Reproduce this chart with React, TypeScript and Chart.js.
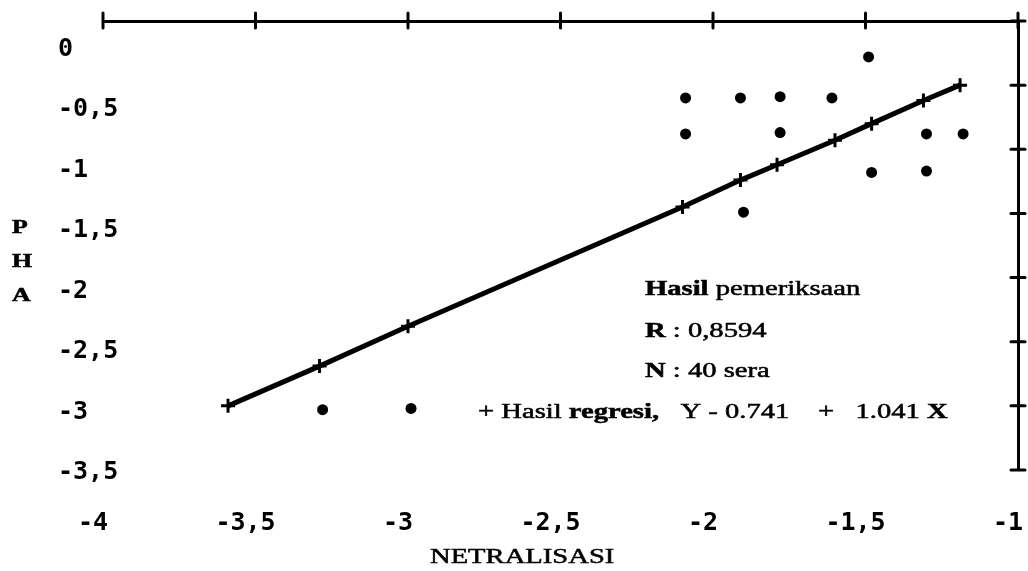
import { useEffect, useRef } from "react";
import { Chart, registerables } from "chart.js";

Chart.register(...registerables);

// Axis ticks and labels
const xTickValues = [-4, -3.5, -3, -2.5, -2, -1.5, -1];
const xTickLabels = ["-4", "-3,5", "-3", "-2,5", "-2", "-1,5", "-1"];
const yTickValues = [0, -0.5, -1, -1.5, -2, -2.5, -3, -3.5];
const yTickLabels = ["0", "-0,5", "-1", "-1,5", "-2", "-2,5", "-3", "-3,5"];

const seraX = [-2.09, -1.91, -1.78, -1.61, -1.49, -2.09, -1.78, -1.3, -1.18, -1.48, -1.3, -1.9, -3.28, -2.99];
const seraY = [-0.6, -0.6, -0.59, -0.6, -0.28, -0.88, -0.87, -0.88, -0.88, -1.18, -1.17, -1.49, -3.03, -3.02];

// Regression points ("+ Hasil regresi")
const regX = [-3.59, -3.29, -3.0, -2.1, -1.91, -1.79, -1.6, -1.48, -1.31, -1.19];
const regY = [-3.0, -2.69, -2.38, -1.45, -1.24, -1.12, -0.93, -0.8, -0.62, -0.5];

const xTitle = "NETRALISASI";
const yTitle = ["P", "H", "A"];
const noteHead = [{ t: "Hasil", b: true }, { t: " pemeriksaan", b: false }];
const noteR = [{ t: "R", b: true }, { t: " : 0,8594", b: false }];
const noteN = [{ t: "N", b: true }, { t: " : 40 sera", b: false }];
const noteReg = [
  { t: "+ Hasil ", b: false },
  { t: "regresi,", b: true },
  { t: "   Y - 0.741    +   1.041 ", b: false },
  { t: "X", b: true },
];

const SERIF = "'Liberation Serif', 'Times New Roman', serif";
const MONO = "'DejaVu Sans Mono', monospace";
const SX = 1.43; // horizontal stretch of the scanned type

function drawRuns(ctx: CanvasRenderingContext2D, runs: { t: string; b: boolean }[], x: number, y: number, size: number) {
  let cx = x;
  for (const r of runs) {
    ctx.font = `${r.b ? "bold " : ""}${size}px ${SERIF}`;
    const w = ctx.measureText(r.t).width;
    ctx.save();
    ctx.translate(cx, y);
    ctx.scale(SX, 1);
    ctx.fillText(r.t, 0, 0);
    ctx.lineWidth = 0.5;
    ctx.strokeStyle = "#000";
    ctx.strokeText(r.t, 0, 0);
    ctx.restore();
    cx += w * SX;
  }
}

const decorPlugin = {
  id: "decor",
  afterDraw(chart: any) {
    const ctx: CanvasRenderingContext2D = chart.ctx;
    const { top, right, left } = chart.chartArea;
    const xs = chart.scales.xTop;
    const ys = chart.scales.y;
    ctx.save();
    ctx.strokeStyle = "#000";
    ctx.lineWidth = 3;
    ctx.lineCap = "round";
    xs.ticks.forEach((t: any) => {
      const px = xs.getPixelForValue(t.value);
      ctx.beginPath();
      ctx.moveTo(px, top - 8);
      ctx.lineTo(px, top + 7);
      ctx.stroke();
    });
    ys.ticks.forEach((t: any) => {
      const py = ys.getPixelForValue(t.value);
      ctx.beginPath();
      ctx.moveTo(right - 7, py);
      ctx.lineTo(right + 7, py);
      ctx.stroke();
    });
    ctx.fillStyle = "#000";
    ctx.textBaseline = "alphabetic";
    ctx.textAlign = "left";
    drawRuns(ctx, noteHead, left + 542, top + 274, 20);
    drawRuns(ctx, noteR, left + 542, top + 316, 20);
    drawRuns(ctx, noteN, left + 542, top + 356, 20);
    drawRuns(ctx, noteReg, left + 375, top + 397, 20);
    drawRuns(ctx, [{ t: xTitle, b: false }], left + 327, top + 542, 20);
    yTitle.forEach((ch, i) => {
      drawRuns(ctx, [{ t: ch, b: true }], left - 91, top + 212 + i * 34, 18);
    });
    ctx.restore();
  },
};

export default function App() {
  const ref = useRef<HTMLCanvasElement>(null);
  useEffect(() => {
    if (!ref.current) return;
    const tickFont = { family: MONO, size: 25, weight: "bold" as const };
    const chart = new Chart(ref.current, {
      type: "scatter",
      data: {
        datasets: [
          {
            label: "Hasil pemeriksaan",
            data: seraX.map((x, i) => ({ x, y: seraY[i] })),
            backgroundColor: "#000",
            borderColor: "#000",
            borderWidth: 0,
            pointRadius: 5.5,
            pointStyle: "circle",
          },
          {
            label: "Hasil regresi",
            data: regX.map((x, i) => ({ x, y: regY[i] })),
            showLine: true,
            borderColor: "#000",
            borderWidth: 5,
            backgroundColor: "#000",
            pointStyle: "cross",
            pointRadius: 7,
            pointBorderWidth: 3,
            pointBorderColor: "#000",
          } as any,
        ],
      },
      plugins: [decorPlugin],
      options: {
        animation: false,
        responsive: false,
        devicePixelRatio: 1,
        layout: { padding: { left: 58, right: 0, top: 0, bottom: 0 } },
        plugins: { legend: { display: false }, tooltip: { enabled: false } },
        scales: {
          x: {
            type: "linear",
            position: "bottom",
            min: -4,
            max: -1,
            grid: { display: false, drawTicks: false },
            border: { display: false },
            afterBuildTicks: (s: any) => {
              s.ticks = xTickValues.map((v) => ({ value: v }));
            },
            afterFit: (s: any) => {
              s.height = 101;
              s.paddingLeft = 0;
              s.paddingRight = 0;
            },
            ticks: {
              autoSkip: false,
              maxRotation: 0,
              color: "#000",
              font: tickFont,
              padding: 38,
              labelOffset: -10,
              callback: (_v: any, i: number) => xTickLabels[i],
            },
          },
          xTop: {
            type: "linear",
            position: "top",
            min: -4,
            max: -1,
            grid: { display: false, drawTicks: false },
            border: { display: true, color: "#000", width: 3 },
            afterBuildTicks: (s: any) => {
              s.ticks = xTickValues.map((v) => ({ value: v }));
            },
            afterFit: (s: any) => {
              s.height = 21;
              s.paddingLeft = 0;
              s.paddingRight = 0;
            },
            ticks: { display: false },
          },
          y: {
            type: "linear",
            position: "right",
            min: -3.5,
            max: 0,
            grid: { display: false, drawTicks: false },
            border: { display: true, color: "#000", width: 3 },
            afterBuildTicks: (s: any) => {
              s.ticks = yTickValues.map((v) => ({ value: v }));
            },
            afterFit: (s: any) => {
              s.width = 7;
              s.paddingTop = 0;
              s.paddingBottom = 0;
            },
            ticks: { display: false },
          },
          y2: {
            type: "linear",
            position: "left",
            min: -3.478,
            max: 0.236,
            grid: { display: false, drawTicks: false },
            border: { display: false },
            afterBuildTicks: (s: any) => {
              s.ticks = yTickValues.map((v) => ({ value: v }));
            },
            afterFit: (s: any) => {
              s.width = 45;
              s.paddingTop = 0;
              s.paddingBottom = 0;
            },
            ticks: {
              autoSkip: false,
              color: "#000",
              font: tickFont,
              mirror: true,
              padding: -45,
              callback: (_v: any, i: number) => yTickLabels[i],
            },
          },
        },
      },
    });
    return () => chart.destroy();
  }, []);
  return (
    <div style={{ position: "fixed", left: 0, top: 0, width: 1028, height: 571, background: "#fff" }}>
      <canvas ref={ref} width={1028} height={571} style={{ display: "block" }} />
    </div>
  );
}
